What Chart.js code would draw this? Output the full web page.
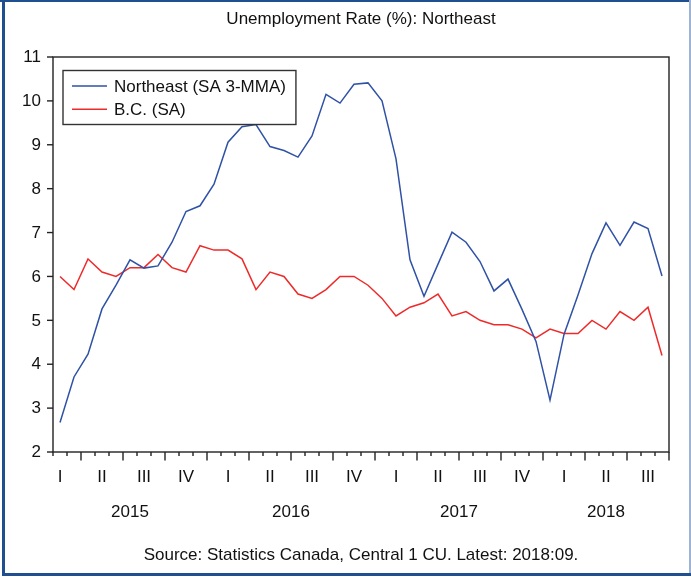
<!DOCTYPE html>
<html>
<head>
<meta charset="utf-8">
<title>Unemployment Rate (%): Northeast</title>
<script src="https://cdn.jsdelivr.net/npm/chart.js@4.4.1/dist/chart.umd.min.js"></script>
<style>
  html, body { margin: 0; padding: 0; background: #fff; overflow: hidden; }
  canvas { display: block; }
</style>
</head>
<body>
<canvas id="rateChart" width="691" height="579"></canvas>
<script>
// Monthly observations, 2015:02 through 2018:09
const months = [
    '2015:02', '2015:03', '2015:04', '2015:05', '2015:06', '2015:07', '2015:08', '2015:09', '2015:10', '2015:11', '2015:12',
    '2016:01', '2016:02', '2016:03', '2016:04', '2016:05', '2016:06', '2016:07', '2016:08', '2016:09', '2016:10', '2016:11', '2016:12',
    '2017:01', '2017:02', '2017:03', '2017:04', '2017:05', '2017:06', '2017:07', '2017:08', '2017:09', '2017:10', '2017:11', '2017:12',
    '2018:01', '2018:02', '2018:03', '2018:04', '2018:05', '2018:06', '2018:07', '2018:08', '2018:09'
];

const northeast = [
    2.67, 3.71, 4.23, 5.26, 5.80, 6.38, 6.19, 6.24, 6.78, 7.48,
    7.61, 8.10, 9.06, 9.41, 9.46, 8.96, 8.87, 8.72, 9.20, 10.15,
    9.95, 10.38, 10.41, 10.00, 8.68, 6.38, 5.55, 6.28, 7.01, 6.78,
    6.34, 5.67, 5.94, 5.25, 4.52, 3.18, 4.68, 5.58, 6.52, 7.22,
    6.71, 7.24, 7.09, 6.01
];

const bc = [
    6.0, 5.7, 6.4, 6.1, 6.0, 6.2, 6.2, 6.5, 6.2, 6.1,
    6.7, 6.6, 6.6, 6.4, 5.7, 6.1, 6.0, 5.6, 5.5, 5.7,
    6.0, 6.0, 5.8, 5.5, 5.1, 5.3, 5.4, 5.6, 5.1, 5.2,
    5.0, 4.9, 4.9, 4.8, 4.6, 4.8, 4.7, 4.7, 5.0, 4.8,
    5.2, 5.0, 5.3, 4.2
];

const quarterNames = ['I', 'II', 'III', 'IV'];
const years = ['2015', '2016', '2017', '2018'];
const yTicks = [2, 3, 4, 5, 6, 7, 8, 9, 10, 11];

const FONT = '17px "Liberation Sans", Arial, sans-serif';

function monthOf(label) {
    return parseInt(label.split(':')[1], 10);
}

// Axes, legend, titles and page frame in the EViews style
const eviewsFrame = {
    id: 'eviewsFrame',
    afterDraw(chart) {
        const ctx = chart.ctx;
        const area = chart.chartArea;
        const xs = chart.scales.x;
        const ys = chart.scales.y;
        const band = xs.getPixelForValue(1) - xs.getPixelForValue(0);
        const midX = (area.left + area.right) / 2;

        ctx.save();

        // outer frame
        ctx.fillStyle = '#1f4f8e';
        ctx.fillRect(0, 0, 691, 2);
        ctx.fillRect(2, 0, 3, 576);
        ctx.fillRect(2, 573, 689, 3);
        ctx.fillStyle = '#9db3d1';
        ctx.fillRect(689, 0, 2, 573);

        // plot box
        ctx.strokeStyle = '#222';
        ctx.lineWidth = 1.4;
        ctx.strokeRect(area.left, area.top, area.right - area.left, area.bottom - area.top);

        ctx.fillStyle = '#111';
        ctx.font = FONT;

        // y axis ticks and labels
        ctx.textAlign = 'right';
        ctx.textBaseline = 'middle';
        yTicks.forEach(v => {
            const py = ys.getPixelForValue(v);
            ctx.beginPath();
            ctx.moveTo(area.left - 6, py);
            ctx.lineTo(area.left, py);
            ctx.stroke();
            ctx.fillText(String(v), area.left - 12, py + 0.5);
        });

        // x axis: minor tick per month, long tick at each quarter end
        const tick = (px, len) => {
            ctx.beginPath();
            ctx.moveTo(px, area.bottom);
            ctx.lineTo(px, area.bottom + len);
            ctx.stroke();
        };
        tick(xs.getPixelForValue(0) - band / 2, 4);
        months.forEach((m, i) => {
            const edge = xs.getPixelForValue(i) + band / 2;
            tick(edge, monthOf(m) % 3 === 0 ? 8.5 : 4);
        });

        // quarter numerals under the middle month of each quarter
        ctx.textAlign = 'center';
        ctx.textBaseline = 'alphabetic';
        months.forEach((m, i) => {
            const mo = monthOf(m);
            if (mo % 3 === 2) {
                ctx.fillText(quarterNames[Math.floor((mo - 1) / 3)], xs.getPixelForValue(i), 482);
            }
        });

        // year labels centred over each year's span
        years.forEach(yr => {
            const idx = months.map((m, i) => m.startsWith(yr) ? i : -1).filter(i => i >= 0);
            const left = xs.getPixelForValue(idx[0]) - band / 2;
            const right = xs.getPixelForValue(idx[idx.length - 1]) + band / 2;
            ctx.fillText(yr, (left + right) / 2, 517);
        });

        // title and source line
        ctx.fillText('Unemployment Rate (%): Northeast', midX, 24);
        ctx.fillText('Source: Statistics Canada, Central 1 CU. Latest: 2018:09.', midX, 560);

        // legend box
        const sets = chart.data.datasets;
        const boxX = area.left + 10;
        const boxY = area.top + 13.5;
        const textW = Math.max(...sets.map(d => ctx.measureText(d.label).width));
        const boxW = 51 + textW + 10;
        const boxH = 54;
        ctx.fillStyle = '#fff';
        ctx.fillRect(boxX, boxY, boxW, boxH);
        ctx.strokeStyle = '#333';
        ctx.lineWidth = 1.4;
        ctx.strokeRect(boxX, boxY, boxW, boxH);
        ctx.textAlign = 'left';
        ctx.textBaseline = 'middle';
        sets.forEach((d, k) => {
            const ry = boxY + 15.5 + k * 23.3;
            ctx.strokeStyle = d.borderColor;
            ctx.lineWidth = d.borderWidth;
            ctx.beginPath();
            ctx.moveTo(boxX + 9, ry);
            ctx.lineTo(boxX + 44, ry);
            ctx.stroke();
            ctx.fillStyle = '#111';
            ctx.fillText(d.label, boxX + 51, ry + 1);
        });

        ctx.restore();
    }
};

new Chart(document.getElementById('rateChart'), {
    type: 'line',
    data: {
        labels: months,
        datasets: [
            {
                label: 'Northeast (SA 3-MMA)',
                data: northeast,
                borderColor: '#2f52a6',
                borderWidth: 1.5
            },
            {
                label: 'B.C. (SA)',
                data: bc,
                borderColor: '#ee2b2b',
                borderWidth: 1.5
            }
        ]
    },
    options: {
        responsive: false,
        animation: false,
        devicePixelRatio: 1,
        layout: {
            padding: { left: 53, top: 57, right: 22, bottom: 127 }
        },
        elements: {
            point: { radius: 0 },
            line: { tension: 0 }
        },
        plugins: {
            legend: { display: false },
            title: { display: false },
            tooltip: { enabled: false }
        },
        scales: {
            x: { type: 'category', offset: true, display: false },
            y: { min: 2, max: 11, display: false }
        }
    },
    plugins: [eviewsFrame]
});
</script>
</body>
</html>
